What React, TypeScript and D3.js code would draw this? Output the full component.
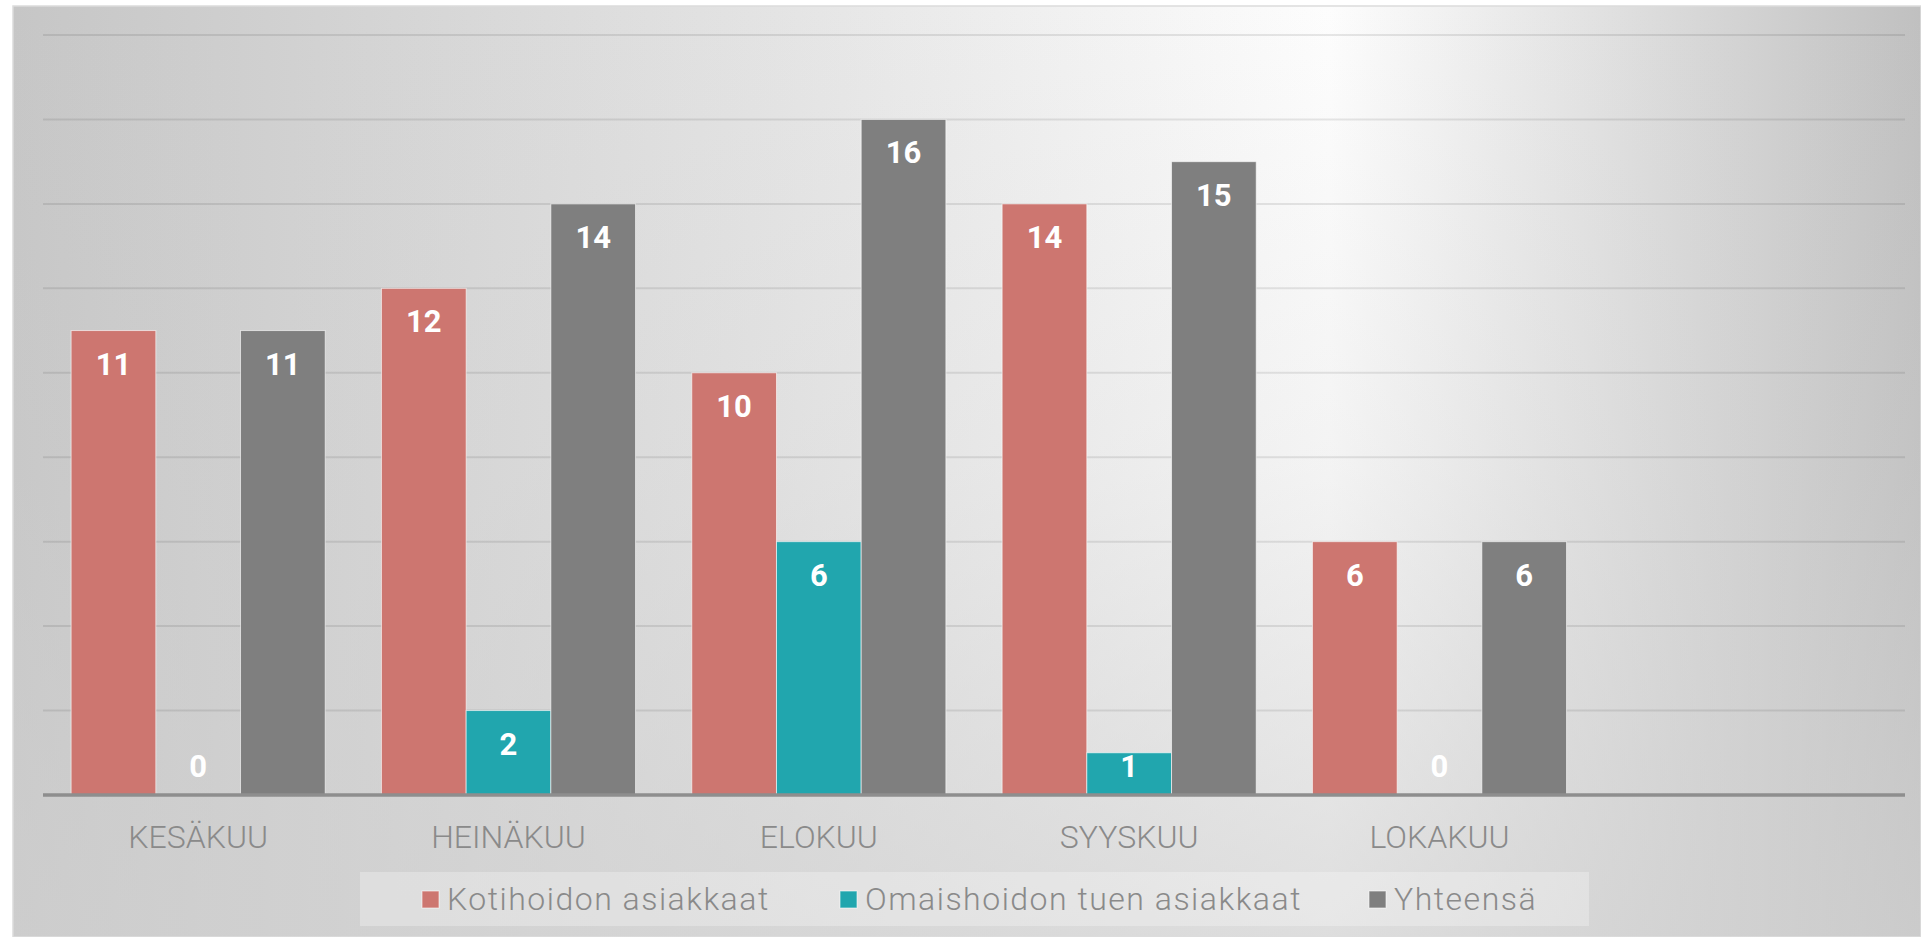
import React from "react";
import * as d3 from "d3";

// ---- data ----
const categories = ["KESÄKUU", "HEINÄKUU", "ELOKUU", "SYYSKUU", "LOKAKUU"];
const kotihoito = [11, 12, 10, 14, 6];
const omaishoito = [0, 2, 6, 1, 0];
const yhteensa = [11, 14, 16, 15, 6];
const seriesNames = ["Kotihoidon asiakkaat", "Omaishoidon tuen asiakkaat", "Yhteensä"];
const seriesColors = ["#CD7670", "#21A6AE", "#7F7F7F"];
const yTicks = [0, 2, 4, 6, 8, 10, 12, 14, 16, 18];

const W = 1921;
const H = 937;
const plot = { left: 43, right: 1905, top: 35, bottom: 795 };
const FONT = "Roboto, 'Open Sans', 'DejaVu Sans', sans-serif";

export default function App() {
  const seriesValues = [kotihoito, omaishoito, yhteensa];
  // the category axis has one trailing empty slot
  const slots = [...categories, ""];
  const x0 = d3.scaleBand<string>().domain(slots).range([plot.left, plot.right]).paddingInner(0).paddingOuter(0);
  const x1 = d3
    .scaleBand<number>()
    .domain(d3.range(seriesValues.length))
    .range([0, x0.bandwidth()])
    .paddingInner(0)
    .paddingOuter(0.332);
  const y = d3.scaleLinear().domain([0, 18]).range([plot.bottom, plot.top]);

  const legendX = [422, 840, 1369];

  return (
    <svg
      width={W}
      height={H}
      style={{ position: "absolute", left: 0, top: 0, display: "block" }}
    >
      <defs>
        <linearGradient id="bgH" gradientUnits="userSpaceOnUse" x1={13} y1={0} x2={W} y2={0}>
          <stop offset="0" stopColor="#c6c6c6" />
          <stop offset="0.4" stopColor="#e4e4e4" />
          <stop offset="0.69" stopColor="#fdfdfd" />
          <stop offset="1" stopColor="#c0c0c0" />
        </linearGradient>
        <linearGradient id="bgV" gradientUnits="userSpaceOnUse" x1={0} y1={6} x2={0} y2={H}>
          <stop offset="0" stopColor="#d0d0d0" stopOpacity={0} />
          <stop offset="0.5" stopColor="#d0d0d0" stopOpacity={0.22} />
          <stop offset="1" stopColor="#d0d0d0" stopOpacity={0.7} />
        </linearGradient>
      </defs>
      <rect x={0} y={0} width={W} height={H} fill="#ffffff" />
      <rect x={13} y={6} width={W - 13} height={H - 6} fill="url(#bgH)" />
      <rect x={13} y={6} width={W - 13} height={H - 6} fill="url(#bgV)" />
      <rect x={13} y={6} width={W - 13} height={H - 6} fill="none" stroke="#dcdcdc" strokeWidth={1.5} />

      {/* gridlines */}
      {yTicks
        .filter((t) => t > 0)
        .map((t) => (
          <line
            key={t}
            x1={plot.left}
            x2={plot.right}
            y1={y(t)}
            y2={y(t)}
            stroke="#000"
            strokeOpacity={0.09}
            strokeWidth={2}
          />
        ))}

      {/* bars */}
      {categories.map((c, ci) => (
        <g key={c} transform={`translate(${x0(c)},0)`}>
          {seriesValues.map((vals, si) => {
            const v = vals[ci];
            const bx = x1(si)!;
            const bw = x1.bandwidth();
            const top = y(v);
            const labelY = Math.min(top + 44, y(0) - 18);
            return (
              <g key={si}>
                {v > 0 && (
                  <rect
                    x={bx}
                    y={top}
                    width={bw}
                    height={y(0) - top}
                    fill={seriesColors[si]}
                    stroke="#ffffff"
                    strokeOpacity={0.6}
                    strokeWidth={1}
                  />
                )}
                <text
                  x={bx + bw / 2}
                  y={labelY}
                  textAnchor="middle"
                  fill="#ffffff"
                  fontFamily={FONT}
                  fontWeight={700}
                  fontSize={31}
                >
                  {v}
                </text>
              </g>
            );
          })}
        </g>
      ))}

      {/* baseline */}
      <line x1={plot.left} x2={plot.right} y1={y(0)} y2={y(0)} stroke="#8e8e8e" strokeWidth={3.5} />

      {/* category labels */}
      {categories.map((c) => (
        <text
          key={c}
          x={x0(c)! + x0.bandwidth() / 2}
          y={848}
          textAnchor="middle"
          fill="#8a8a8a"
          fontFamily={FONT}
          fontWeight={300}
          fontSize={32}
        >
          {c}
        </text>
      ))}

      {/* legend */}
      <rect x={360} y={872} width={1229} height={54} fill="#ffffff" fillOpacity={0.28} />
      {seriesNames.map((name, i) => (
        <g key={name}>
          <rect
            x={legendX[i]}
            y={891}
            width={17}
            height={17}
            fill={seriesColors[i]}
            stroke="#ffffff"
            strokeOpacity={0.6}
            strokeWidth={1}
          />
          <text
            x={legendX[i] + 25}
            y={910}
            fill="#8a8a8a"
            fontFamily={FONT}
            fontWeight={300}
            fontSize={32}
            letterSpacing={1.5}
          >
            {name}
          </text>
        </g>
      ))}
    </svg>
  );
}
